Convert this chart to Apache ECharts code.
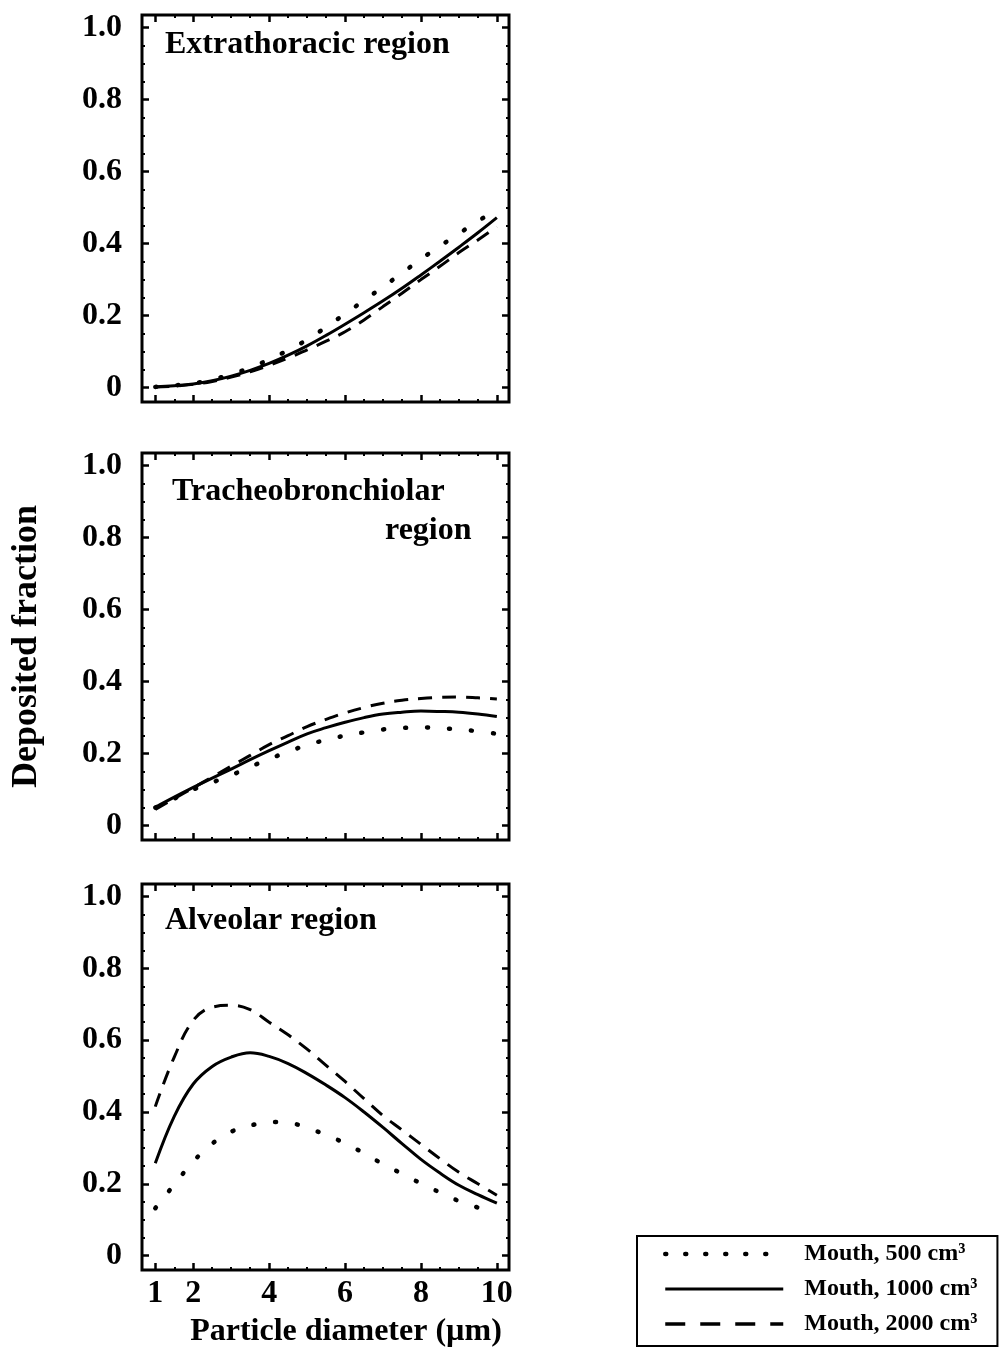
<!DOCTYPE html>
<html>
<head>
<meta charset="utf-8">
<script src="https://cdn.jsdelivr.net/npm/echarts@6/dist/echarts.min.js"></script>
<style>
  html, body { margin: 0; padding: 0; background: #fff; }
  #chart { width: 1000px; height: 1359px; }
</style>
</head>
<body>
<div id="chart"></div>
<script>
// ---------------- data ----------------
const diameters = [1, 1.5, 2, 2.5, 3, 3.5, 4, 4.5, 5, 5.5, 6, 6.5, 7, 7.5, 8, 8.5, 9, 9.5, 10];

const seriesNames = ['Mouth, 500 cm³', 'Mouth, 1000 cm³', 'Mouth, 2000 cm³'];
const panelTitles = ['Extrathoracic region', 'Tracheobronchiolar', 'region', 'Alveolar region'];

// Extrathoracic region
const et500  = [0.002, 0.006, 0.012, 0.022, 0.037, 0.055, 0.078, 0.104, 0.133, 0.168, 0.205, 0.242, 0.280, 0.318, 0.357, 0.393, 0.428, 0.462, 0.495];
const et1000 = [0.002, 0.005, 0.010, 0.019, 0.032, 0.048, 0.067, 0.090, 0.116, 0.145, 0.176, 0.208, 0.241, 0.276, 0.313, 0.351, 0.390, 0.430, 0.472];
const et2000 = [0.002, 0.004, 0.009, 0.017, 0.029, 0.044, 0.062, 0.082, 0.105, 0.129, 0.155, 0.188, 0.225, 0.262, 0.300, 0.337, 0.375, 0.410, 0.447];

// Tracheobronchiolar region
const tb500  = [0.050, 0.075, 0.100, 0.120, 0.140, 0.163, 0.185, 0.205, 0.224, 0.238, 0.250, 0.259, 0.267, 0.271, 0.273, 0.271, 0.267, 0.262, 0.255];
const tb1000 = [0.051, 0.079, 0.106, 0.132, 0.157, 0.183, 0.208, 0.232, 0.255, 0.272, 0.287, 0.300, 0.310, 0.315, 0.318, 0.317, 0.315, 0.310, 0.303];
const tb2000 = [0.045, 0.075, 0.105, 0.135, 0.165, 0.195, 0.225, 0.250, 0.275, 0.295, 0.313, 0.328, 0.340, 0.348, 0.353, 0.356, 0.357, 0.355, 0.352];

// Alveolar region
const al500  = [0.132, 0.198, 0.262, 0.312, 0.345, 0.362, 0.372, 0.370, 0.356, 0.336, 0.313, 0.285, 0.255, 0.228, 0.201, 0.176, 0.152, 0.134, 0.118];
const al1000 = [0.257, 0.388, 0.478, 0.527, 0.553, 0.565, 0.555, 0.535, 0.507, 0.475, 0.440, 0.400, 0.357, 0.312, 0.268, 0.230, 0.196, 0.170, 0.146];
const al2000 = [0.415, 0.553, 0.655, 0.692, 0.697, 0.685, 0.650, 0.615, 0.575, 0.530, 0.485, 0.437, 0.390, 0.350, 0.310, 0.270, 0.232, 0.200, 0.168];

// axis ticks / labels
const xLabelTicks = [1, 2, 4, 6, 8, 10];
const xMinorTicks = [1.5, 2.5, 3, 3.5, 4.5, 5, 5.5, 6.5, 7, 7.5, 8.5, 9, 9.5];
const yLabelTicks = [0, 0.2, 0.4, 0.6, 0.8, 1.0];
const yMinorTicks = [0.05, 0.1, 0.15, 0.25, 0.3, 0.35, 0.45, 0.5, 0.55, 0.65, 0.7, 0.75, 0.85, 0.9, 0.95];

// ---------------- chart ----------------
const FONT = 'Liberation Serif';
const chart = echarts.init(document.getElementById('chart'), null, { renderer: 'canvas' });

const panels = [
  { top: 15,  height: 387, data: [et500, et1000, et2000] },
  { top: 453, height: 387, data: [tb500, tb1000, tb2000] },
  { top: 884, height: 386, data: [al500, al1000, al2000] }
];

const lineStyles = [
  { color: '#000', width: 4.5, type: [1, 21], cap: 'round' },
  { color: '#000', width: 3, type: 'solid' },
  { color: '#000', width: 3, type: [14, 10] }
];
const legendLineStyles = [
  { color: '#000', width: 4.5, type: [1, 19], cap: 'round' },
  { color: '#000', width: 3, type: 'solid' },
  { color: '#000', width: 3.5, type: [20, 15] }
];

const grids = [], xAxes = [], yAxes = [], series = [];
const X_MIN = 0.65, X_MAX = 10.32, Y_MIN = -0.04, Y_MAX = 1.035;

panels.forEach((p, i) => {
  grids.push({
    left: 142, top: p.top, width: 367, height: p.height,
    show: true, borderColor: '#000', borderWidth: 3, backgroundColor: 'transparent'
  });
  const isBottom = i === panels.length - 1;
  const xBase = {
    gridIndex: i, type: 'value', min: X_MIN, max: X_MAX,
    axisLine: { show: false, onZero: false }, splitLine: { show: false }
  };
  const yBase = {
    gridIndex: i, type: 'value', min: Y_MIN, max: Y_MAX,
    axisLine: { show: false, onZero: false }, splitLine: { show: false }
  };
  xAxes.push(Object.assign({}, xBase, {
    position: 'bottom',
    axisTick: { show: true, inside: true, length: 7, customValues: xLabelTicks, lineStyle: { color: '#000', width: 2.5 } },
    axisLabel: {
      show: isBottom, customValues: xLabelTicks, margin: 8,
      fontFamily: FONT, fontWeight: 'bold', fontSize: 32, color: '#000',
      formatter: v => String(v)
    },
    name: isBottom ? 'Particle diameter (µm)' : '',
    nameLocation: 'middle', nameGap: 46,
    nameTextStyle: { fontFamily: FONT, fontWeight: 'bold', fontSize: 32, color: '#000', lineHeight: 32, padding: [0, 0, 0, 41] }
  }));
  xAxes.push(Object.assign({}, xBase, {
    position: 'bottom',
    axisTick: { show: true, inside: true, length: 3, customValues: xMinorTicks, lineStyle: { color: '#000', width: 2 } },
    axisLabel: { show: false }
  }));
  xAxes.push(Object.assign({}, xBase, {
    position: 'top',
    axisTick: { show: true, inside: true, length: 7, customValues: xLabelTicks, lineStyle: { color: '#000', width: 2.5 } },
    axisLabel: { show: false }
  }));
  xAxes.push(Object.assign({}, xBase, {
    position: 'top',
    axisTick: { show: true, inside: true, length: 3, customValues: xMinorTicks, lineStyle: { color: '#000', width: 2 } },
    axisLabel: { show: false }
  }));

  yAxes.push(Object.assign({}, yBase, {
    position: 'left',
    axisTick: { show: true, inside: true, length: 7, customValues: yLabelTicks, lineStyle: { color: '#000', width: 2.5 } },
    axisLabel: {
      show: true, customValues: yLabelTicks, margin: 20,
      fontFamily: FONT, fontWeight: 'bold', fontSize: 32, color: '#000',
      formatter: v => (v === 0 ? '0' : v.toFixed(1))
    },
    name: i === 1 ? 'Deposited fraction' : '',
    nameLocation: 'middle', nameRotate: 90, nameGap: 97,
    nameTextStyle: { fontFamily: FONT, fontWeight: 'bold', fontSize: 36, color: '#000', lineHeight: 36 }
  }));
  yAxes.push(Object.assign({}, yBase, {
    position: 'left',
    axisTick: { show: true, inside: true, length: 3, customValues: yMinorTicks, lineStyle: { color: '#000', width: 2 } },
    axisLabel: { show: false }
  }));
  yAxes.push(Object.assign({}, yBase, {
    position: 'right',
    axisTick: { show: true, inside: true, length: 7, customValues: yLabelTicks, lineStyle: { color: '#000', width: 2.5 } },
    axisLabel: { show: false }
  }));
  yAxes.push(Object.assign({}, yBase, {
    position: 'right',
    axisTick: { show: true, inside: true, length: 3, customValues: yMinorTicks, lineStyle: { color: '#000', width: 2 } },
    axisLabel: { show: false }
  }));

  p.data.forEach((vals, k) => {
    series.push({
      type: 'line', name: seriesNames[k],
      xAxisIndex: i * 4, yAxisIndex: i * 4,
      data: diameters.map((d, j) => [d, vals[j]]),
      smooth: 0.4, symbol: 'none', showSymbol: false,
      lineStyle: lineStyles[k], itemStyle: { color: '#000' },
      silent: true, animation: false
    });
  });
});

const titleStyle = { fontFamily: FONT, fontWeight: 'bold', fontSize: 32, color: '#000', lineHeight: 32 };

const option = {
  backgroundColor: '#fff',
  animation: false,
  title: [
    { text: panelTitles[0], left: 165, top: 29, padding: 0, textStyle: titleStyle },
    { text: panelTitles[1], left: 172, top: 476, padding: 0, textStyle: titleStyle },
    { text: panelTitles[2], left: 385, top: 515, padding: 0, textStyle: titleStyle },
    { text: panelTitles[3], left: 165, top: 905, padding: 0, textStyle: titleStyle }
  ],
  legend: {
    data: seriesNames.map((n, k) => ({ name: n, lineStyle: legendLineStyles[k] })),
    orient: 'vertical',
    left: 637, top: 1236,
    padding: [6, 20, 10, 26],
    borderColor: '#000', borderWidth: 2,
    itemWidth: 118, itemHeight: 14, itemGap: 11,
    itemStyle: { opacity: 0 },
    textStyle: { fontFamily: FONT, fontWeight: 'bold', fontSize: 24, lineHeight: 22, color: '#000', padding: [0, 0, 0, 16] },
    selectedMode: false
  },
  grid: grids,
  xAxis: xAxes,
  yAxis: yAxes,
  series: series
};
chart.setOption(option);
</script>
</body>
</html>
